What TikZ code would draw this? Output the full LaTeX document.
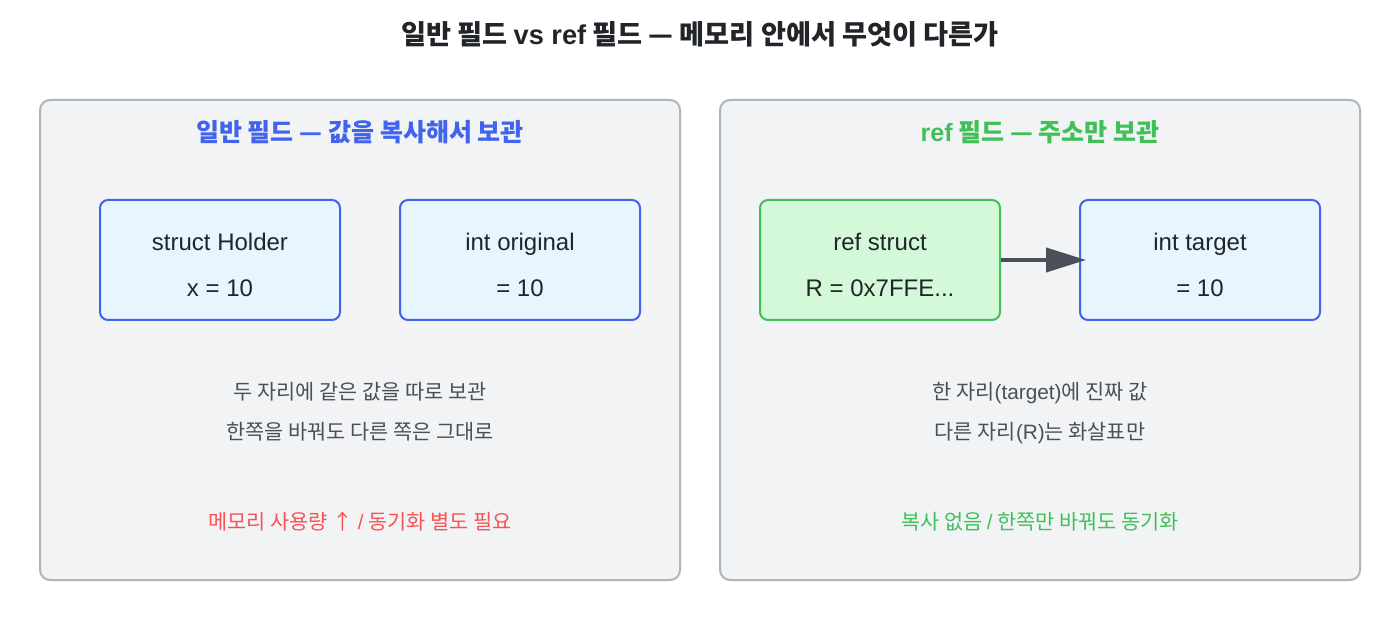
\documentclass[tikz,border=0pt]{standalone}
\usepackage{fontspec}
\setmainfont{Noto Sans CJK KR}
\newfontfamily\lat{Liberation Sans}
\usetikzlibrary{arrows.meta}
\definecolor{panelfill}{HTML}{F1F3F5}
\definecolor{panelline}{HTML}{ADB5BD}
\definecolor{bluefill}{HTML}{E7F5FF}
\definecolor{blueline}{HTML}{4263EB}
\definecolor{greenfill}{HTML}{D3F9D8}
\definecolor{greenline}{HTML}{40C057}
\definecolor{redtext}{HTML}{FA5252}
\definecolor{darktext}{HTML}{212529}
\definecolor{graytext}{HTML}{495057}
\begin{document}
\begin{tikzpicture}[x=0.5pt,y=-0.5pt,
  panel/.style={draw=panelline, fill=panelfill, line width=1pt, rounded corners=5pt, minimum width=320pt, minimum height=240pt, inner sep=0pt},
  bluebox/.style={draw=blueline, fill=bluefill, line width=1pt, rounded corners=4pt, minimum width=120pt, minimum height=60pt, inner sep=0pt},
  greenbox/.style={draw=greenline, fill=greenfill, line width=1pt, rounded corners=4pt, minimum width=120pt, minimum height=60pt, inner sep=0pt},
  titletext/.style={text=darktext, font=\fontsize{13.6}{16}\selectfont\bfseries, inner sep=0pt, anchor=base},
  headtext/.style={font=\fontsize{12.5}{15}\selectfont\bfseries, inner sep=0pt, anchor=base},
  boxtext/.style={text=darktext, font=\fontsize{12}{14}\selectfont\lat, inner sep=0pt, anchor=base},
  captext/.style={text=graytext, font=\fontsize{10.4}{13}\selectfont, inner sep=0pt, anchor=base},
  notetext/.style={font=\fontsize{10.4}{13}\selectfont, inner sep=0pt, anchor=base},
  arr/.style={draw=graytext, line width=2pt, -{Triangle[length=20pt,width=12pt]}, shorten >=-3.5pt}
]
\useasboundingbox (0,0) rectangle (1400,640);
\fill[white] (0,0) rectangle (1400,640);

\node[titletext] (title) at (700,44.7) {일반 필드 {\lat\bfseries vs ref} 필드 — 메모리 안에서 무엇이 다른가};

\node[panel] (lp) at (360,340) {};
\node[panel] (rp) at (1040,340) {};

\node[headtext, text=blueline] (lh) at (360,142) {일반 필드 — 값을 복사해서 보관};
\node[headtext, text=greenline] (rh) at (1040,142) {{\lat\bfseries ref} 필드 — 주소만 보관};

\node[bluebox] (sh) at (220,260) {};
\node[bluebox] (io) at (520,260) {};
\node[greenbox] (rs) at (880,260) {};
\node[bluebox] (it) at (1200,260) {};

\node[boxtext] (sh1) at (220,250.6) {struct Holder};
\node[boxtext] (sh2) at (220,296.6) {x = 10};
\node[boxtext] (io1) at (520,250.6) {int original};
\node[boxtext] (io2) at (520,296.6) {= 10};
\node[boxtext] (rs1) at (880,250.6) {ref struct};
\node[boxtext] (rs2) at (880,296.6) {R = 0x7FFE...};
\node[boxtext] (it1) at (1200,250.6) {int target};
\node[boxtext] (it2) at (1200,296.6) {= 10};

\draw[arr] (rs.east) -- (it.west);

\node[captext] (lc1) at (360,399.5) {두 자리에 같은 값을 따로 보관};
\node[captext] (lc2) at (360,439.5) {한쪽을 바꿔도 다른 쪽은 그대로};
\node[notetext, text=redtext] (ln) at (360,529.5) {메모리 사용량 ↑ {\lat /} 동기화 별도 필요};

\node[captext] (rc1) at (1040,399.5) {한 자리{\lat (target)}에 진짜 값};
\node[captext] (rc2) at (1040,439.5) {다른 자리{\lat (R)}는 화살표만};
\node[notetext, text=greenline] (rn) at (1040,529.5) {복사 없음 {\lat /} 한쪽만 바꿔도 동기화};
\end{tikzpicture}
\end{document}
